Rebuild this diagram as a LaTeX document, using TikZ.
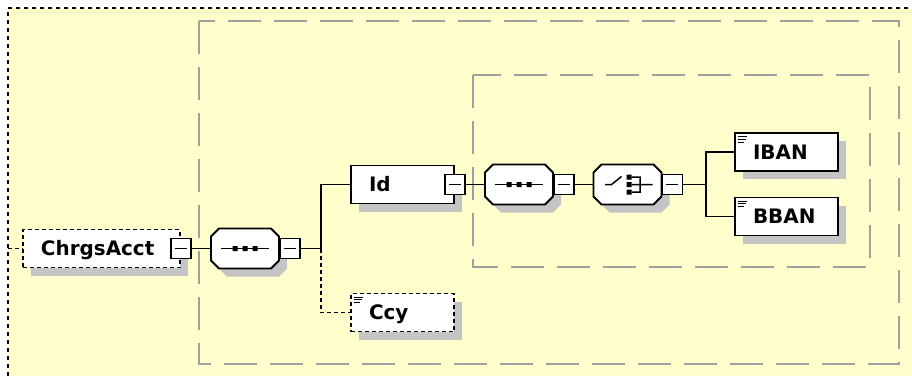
\documentclass[tikz,border=0pt]{standalone}
\usepackage{fontspec}
\setmainfont{DejaVu Sans}
\usetikzlibrary{backgrounds,shadows}

\definecolor{paleyellow}{RGB}{255,255,204}
\definecolor{groupgray}{RGB}{160,160,160}
\definecolor{shadowgray}{RGB}{196,196,196}

\newcommand\octagonshape{(-26,-20) -- (26,-20) -- (34,-12) -- (34,12) -- (26,20) -- (-26,20) -- (-34,12) -- (-34,-12) -- cycle}

\begin{document}
\begin{tikzpicture}[
    x=1bp, y=-1bp,
    elem/.style={rectangle, draw=black, line width=1.8bp, fill=white, drop shadow={shadow xshift=8bp, shadow yshift=-8bp, fill=shadowgray, opacity=1}, minimum width=103bp, minimum height=38bp, text width=67bp, inner xsep=18bp, align=left, text height=14bp, text depth=0pt, font=\bfseries\fontsize{20}{22}\selectfont},
    optional/.style={dash pattern=on 4bp off 3bp},
    minus/.style={rectangle, draw=black, line width=1.5bp, fill=white, minimum size=20bp, inner sep=0pt},
    compositor/.style={rectangle, minimum width=68bp, minimum height=40bp, inner sep=0pt},
    octagon/.style={draw=black, line width=1.8bp, fill=white},
    symbol/.style={draw=black, line width=1.5bp},
    conn/.style={draw=black, line width=1.5bp},
    group/.style={draw=groupgray, line width=2bp, dash pattern=on 33bp off 13bp},
    outerdot/.style={draw=black, line width=2.5bp, dash pattern=on 4bp off 4bp}
]

\useasboundingbox (0,0) rectangle (912,376);
\begin{scope}[on background layer]
\fill[paleyellow] (8,8) rectangle (912,376);
\draw[outerdot] (8,376) -- (8,8) -- (912,8);
\draw[group] (199,21) rectangle (899,364);
\draw[group] (473,75) rectangle (870,267);
\end{scope}

\node[elem, optional, text width=121bp] (ChrgsAcct) at (101.5,248.5) {ChrgsAcct};
\node[minus] (ChrgsAcctM) at (ChrgsAcct.east) {};
\node[compositor] (seqA) at (245,248.5) {};
\node[minus, anchor=west] (seqAM) at (seqA.east) {};
\node[elem] (Id) at (402.5,184.5) {Id};
\node[minus] (IdM) at (Id.east) {};
\node[elem, optional] (Ccy) at (402.5,312.5) {Ccy};
\node[compositor] (seqB) at (519,184.5) {};
\node[minus, anchor=west] (seqBM) at (seqB.east) {};
\node[compositor] (choiceA) at (627.5,184.5) {};
\node[minus, anchor=west] (choiceAM) at (choiceA.east) {};
\node[elem] (IBAN) at (786.5,152) {IBAN};
\node[elem] (BBAN) at (786.5,216.5) {BBAN};

% octagons of the compositors, under the minus boxes
\begin{scope}[on background layer]
\foreach \c in {seqA,seqB,choiceA} {
    \fill[shadowgray, shift={(\c.center)}, xshift=8bp, yshift=-8bp] \octagonshape;
    \path[octagon, shift={(\c.center)}] \octagonshape;
}
\foreach \c in {seqA,seqB} {
    \draw[symbol, shift={(\c.center)}] (-24,0) -- (24,0);
    \fill[shift={(\c.center)}] (-12.5,-2.5) rectangle (-7.5,2.5) (-2.5,-2.5) rectangle (2.5,2.5) (7.5,-2.5) rectangle (12.5,2.5);
}
\draw[symbol, shift={(choiceA.center)}] (-22.5,0) -- (-16,0) -- (-6,-8) (4,-7.5) -- (12.5,-7.5) -- (12.5,7.5) -- (4,7.5) (4,0) -- (25,0);
\fill[shift={(choiceA.center)}] (-1,-10) rectangle (4,-5) (-1,-2.5) rectangle (4,2.5) (-1,5) rectangle (4,10);
\end{scope}

\foreach \m in {ChrgsAcctM,seqAM,IdM,seqBM,choiceAM}
    \draw[symbol, shift={(\m.center)}] (-6,0) -- (6,0);
\foreach \e in {Ccy,IBAN,BBAN}
    \draw[line width=1bp, shift={(\e.north west)}] (3.5,4.5) -- ++(9,0) (3.5,7.2) -- ++(8,0) (3.5,9.9) -- ++(6,0);

\coordinate (root) at (8,248.5);
\coordinate (jA) at (321,248.5);
\coordinate (jB) at (706,184.5);

\draw[conn, optional] (root) -- (ChrgsAcct.west);
\draw[conn] (ChrgsAcctM.east) -- (seqA.west);
\draw[conn] (seqAM.east) -- (jA) |- (Id.west);
\draw[conn, optional] (jA) |- (Ccy.west);
\draw[conn] (IdM.east) -- (seqB.west);
\draw[conn] (seqBM.east) -- (choiceA.west);
\draw[conn] (choiceAM.east) -- (jB) |- (IBAN.west);
\draw[conn] (jB) |- (BBAN.west);

\end{tikzpicture}
\end{document}
